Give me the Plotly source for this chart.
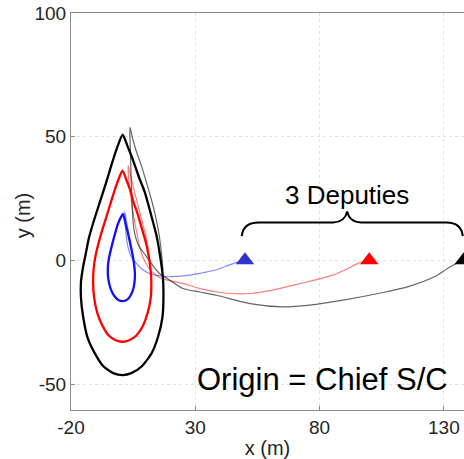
import plotly.graph_objects as go

# Deputy start positions (m), relative to the chief spacecraft
deputy_x = [50, 100, 138]
deputy_y = [0, 0, 0]
deputy_colors = ["#3333cc", "#ff0000", "#000000"]

# Axis ticks
x_tick_vals = [-20, 30, 80, 130]
x_tick_text = ["-20", "30", "80", "130"]
y_tick_vals = [-50, 0, 50, 100]
y_tick_text = ["-50", "0", "50", "100"]

# Approach paths: deputy -> drift under the chief -> rise to apex -> drop into the closed loop
blue_app_x = [50, 46, 42, 38.5, 33, 27.8, 22.4, 18.4, 15.7, 11.7, 8.5, 6.4, 4.5, 3.7, 2.8, 2.2, 1.8, 1.6,
              2.4, 3.3, 4.3, 5.1, 5.6]
blue_app_y = [0, -1, -2.5, -3.8, -5, -6, -6.5, -6.6, -6.2, -5.4, -3.5, -1.3, 1, 2.7, 6, 10, 15, 19.8,
              15.5, 10.5, 5, 0, -4]

red_app_x = [100, 96, 91, 85.2, 78, 72, 62, 52, 42, 31.8, 25, 21.8, 18, 15.7, 12.5, 10, 8, 6.5, 5.2, 4, 3.2, 3.0,
             3.8, 5.2, 7, 8.8, 10.3, 11.3, 12]
red_app_y = [0, -1, -3.5, -6, -8, -9.4, -11.8, -13.4, -13.2, -11.4, -9.3, -8.7, -7.8, -7, -4.5, -1, 4, 11, 18, 26, 33, 38.3,
             35, 29, 22, 15, 9, 3, -3]

black_app_x = [138, 135, 131, 127, 116, 104, 90, 76, 65, 52, 38.5, 31.8, 25.1, 19.8, 15.7, 12.5, 10, 7.2, 5.4, 4.6, 4.2, 3.9, 3.7,
               4.6, 6.3, 8.4, 10.5, 12.5, 14.2, 15.5, 16.4, 17]
black_app_y = [0, -1.3, -3.6, -6.2, -10.5, -13.3, -16, -18.1, -18.8, -17.5, -14.1, -12.8, -11.4, -8, -5.4, -1.5, 2, 6, 12, 22, 33, 44, 53.8,
               50, 44, 38, 31, 24, 17, 10, 3, -4]

# Closed teardrop loops around the chief
blue_loop_x = [0.9, 1.9, 2.9, 4.0, 5.0, 5.6, 5.7, 5.2, 4.1, 2.6, 0.8, -1.0, -2.7, -4.1, -5.0, -5.2, -4.8, -3.8, -2.5, -1.1, 0.9]
blue_loop_y = [18.8, 15, 11, 6, 1, -3.5, -7, -11, -14, -15.9, -16.5, -16, -14.2, -11.3, -7.5, -3.5, 0.5, 5, 10, 14.8, 18.8]

red_loop_x = [0.7, 2.3, 3.8, 5.3, 6.9, 8.6, 10.2, 11.2, 12.0, 12.3, 12.1, 10.9, 8.9, 6.2, 3.4, 0.7,
              -2.0, -4.8, -7.3, -9.5, -10.7, -11.1, -10.9, -10.1, -8.9, -7.5, -5.8, -4.1, -2.4, -0.8, 0.7]
red_loop_y = [36.3, 32.5, 28.5, 23, 18.5, 12.5, 7, 2, -3.5, -8, -15, -21, -26.5, -30.5, -32.3, -32.9,
              -32.3, -30.4, -26.5, -21, -15, -9, -3.5, 2, 7, 12, 17.5, 23, 28.5, 33, 36.3]

black_loop_x = [0.8, 2.6, 4.4, 7.2, 9.7, 12.2, 14.4, 15.8, 16.9, 17.2, 16.8, 15.0, 12.4, 8.5, 4.5, 0.8,
                -3.0, -7.0, -10.4, -13.4, -15.1, -16.0, -16.0, -15.2, -14.2, -12.8, -10.8, -8.4, -6.0, -3.6, -1.3, 0.8]
black_loop_y = [50.8, 46.5, 42, 34, 27.5, 18.5, 10, 2, -6, -13, -22.9, -31, -37.6, -42.8, -45.5, -46.4,
                -45.6, -42.8, -37.6, -31, -22.9, -15, -9, -3, 2, 9, 16, 23.5, 31, 39, 46, 50.8]

approaches = [
    (blue_app_x, blue_app_y, "rgba(40,40,255,0.55)"),
    (red_app_x, red_app_y, "rgba(255,0,0,0.5)"),
    (black_app_x, black_app_y, "rgba(0,0,0,0.6)"),
]
loops = [
    (blue_loop_x, blue_loop_y, "#1010ff"),
    (red_loop_x, red_loop_y, "#ff0000"),
    (black_loop_x, black_loop_y, "#000000"),
]

FONT = "Liberation Sans, Arial, sans-serif"

fig = go.Figure()

for xs, ys, col in approaches:
    fig.add_trace(go.Scatter(x=xs, y=ys, mode="lines",
                             line=dict(color=col, width=1.2, shape="spline", smoothing=0.8),
                             hoverinfo="skip", showlegend=False))

for xs, ys, col in loops:
    fig.add_trace(go.Scatter(x=xs, y=ys, mode="lines",
                             line=dict(color=col, width=2.3, shape="spline", smoothing=0.6),
                             hoverinfo="skip", showlegend=False))

fig.add_trace(go.Scatter(x=deputy_x, y=deputy_y, mode="markers",
                         marker=dict(symbol="triangle-up", size=16, color=deputy_colors,
                                     line=dict(width=0)),
                         cliponaxis=False, hoverinfo="skip", showlegend=False))

# Curly brace grouping the deputies
fig.add_shape(type="path", xref="x", yref="y",
              path=("M 48.7,9.8 Q 49.3,15.3 55.5,15.3 L 85.5,15.3 "
                    "Q 90.3,15.6 91.1,19.8 Q 91.9,15.6 96.7,15.3 L 131,15.3 "
                    "Q 137,15.3 137.6,9.8"),
              line=dict(color="black", width=2))

fig.add_annotation(x=91.1, y=26.6, xref="x", yref="y", text="3 Deputies", showarrow=False,
                   font=dict(size=26, color="black", family=FONT),
                   xanchor="center", yanchor="middle")
fig.add_annotation(x=81.2, y=-48.0, xref="x", yref="y", text="Origin = Chief S/C", showarrow=False,
                   font=dict(size=31, color="black", family=FONT),
                   xanchor="center", yanchor="middle")

# y-axis title placed close to the tick labels
fig.add_annotation(x=-0.12, y=0.49, xref="paper", yref="paper", text="y (m)", showarrow=False,
                   textangle=-90, font=dict(size=20, color="#262626", family=FONT),
                   xanchor="center", yanchor="middle")

axis_common = dict(
    showline=True, linecolor="#8c8c8c", linewidth=1, mirror=True,
    showgrid=True, gridcolor="#e2e2e2", gridwidth=1, griddash="dot",
    zeroline=False, ticks="inside", ticklen=4, tickcolor="#8c8c8c",
    tickfont=dict(size=19, color="#262626", family=FONT),
)

fig.update_xaxes(range=[-20, 138.1], tickvals=x_tick_vals, ticktext=x_tick_text,
                 title=dict(text="x (m)", standoff=6,
                            font=dict(size=20, color="#262626", family=FONT)),
                 **axis_common)
fig.update_yaxes(range=[-60.5, 100], tickvals=y_tick_vals, ticktext=y_tick_text, **axis_common)

fig.update_layout(width=464, height=459, margin=dict(l=71, r=0, t=13, b=49),
                  plot_bgcolor="white", paper_bgcolor="white")

fig.write_html("out.html")
